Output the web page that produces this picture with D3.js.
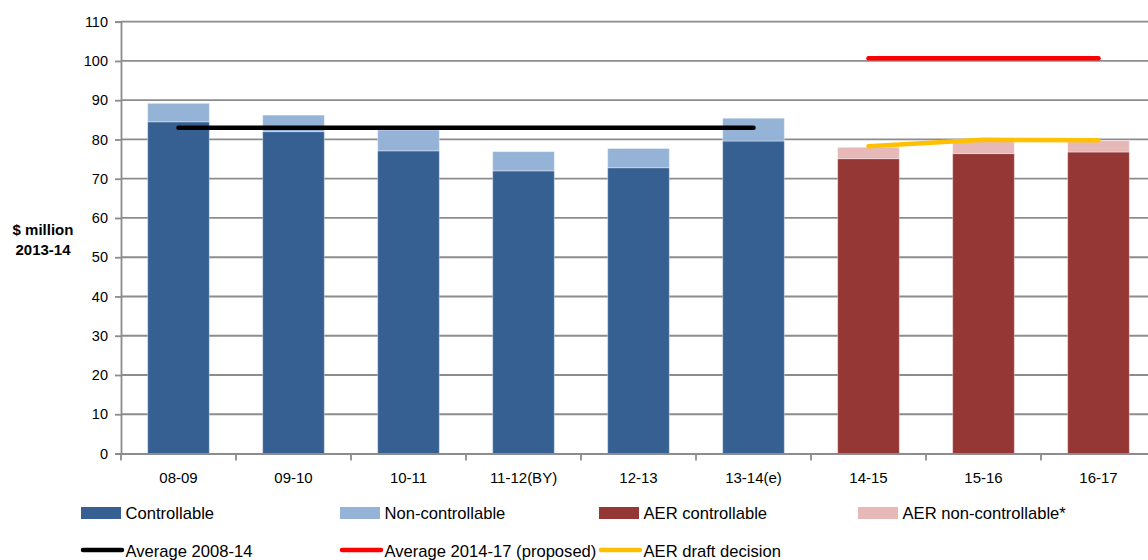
<!DOCTYPE html>
<html>
<head>
<meta charset="utf-8">
<script src="https://cdn.jsdelivr.net/npm/d3@7"></script>
<style>
  html, body { margin: 0; padding: 0; background: #fff; }
  svg { display: block; font-family: "Liberation Sans", Arial, sans-serif; }
</style>
</head>
<body>
<svg id="chart" width="1148" height="560"></svg>
<script>
// Financial years on the category axis
const years = ["08-09", "09-10", "10-11", "11-12(BY)", "12-13", "13-14(e)", "14-15", "15-16", "16-17"];

// Historical opex ($ million 2013-14)
const controllable    = [84.5, 82.0, 77.1, 72.0, 72.8, 79.6, null, null, null];
const nonControllable = [4.7, 4.2, 5.3, 4.9, 4.9, 5.8, null, null, null];

// AER forecast
const aerControllable    = [null, null, null, null, null, null, 75.1, 76.4, 76.8];
const aerNonControllable = [null, null, null, null, null, null, 2.9, 3.5, 2.9];

// Reference lines
const avgHistoric = 83.0;           // Average 2008-14, spans 08-09 .. 13-14(e)
const avgProposed = 100.7;          // Average 2014-17 (proposed), spans 14-15 .. 16-17
const aerDraft    = [78.3, 79.9, 79.8]; // AER draft decision, 14-15 .. 16-17

const yTicks = [0, 10, 20, 30, 40, 50, 60, 70, 80, 90, 100, 110];

const colors = {
  controllable: "#376092",
  nonControllable: "#95B3D7",
  aerControllable: "#953735",
  aerNonControllable: "#E6B9B8",
  avgHistoric: "#000000",
  avgProposed: "#FF0000",
  aerDraft: "#FFC000",
  grid: "#8C8C8C"
};

const svg = d3.select("#chart");
const x0 = 121, x1 = 1156, yTop = 21.7, yBottom = 453.5;

const x = d3.scaleBand().domain(years).range([x0, x1]).paddingInner(0.464).paddingOuter(0.232);
const y = d3.scaleLinear().domain([0, 110]).range([yBottom, yTop]);

// Horizontal gridlines
svg.append("g")
  .selectAll("line")
  .data(yTicks.filter(d => d > 0))
  .join("line")
  .attr("x1", x0).attr("x2", 1148)
  .attr("y1", d => y(d)).attr("y2", d => y(d))
  .attr("stroke", colors.grid).attr("stroke-width", 1.8);

// Y axis
const yAxis = svg.append("g")
  .attr("transform", `translate(${x0},0)`)
  .call(d3.axisLeft(y).tickValues(yTicks).tickSize(6).tickPadding(7));
yAxis.select(".domain").attr("stroke", colors.grid).attr("stroke-width", 1.8);
yAxis.selectAll(".tick line").attr("stroke", colors.grid).attr("stroke-width", 1.8);
yAxis.selectAll(".tick text").attr("font-size", 14.5).attr("fill", "#000")
  .attr("font-family", "Liberation Sans, Arial, sans-serif");

// Y axis title
const yTitle = svg.append("text")
  .attr("text-anchor", "middle")
  .attr("font-weight", "bold")
  .attr("font-size", 15)
  .attr("fill", "#000");
yTitle.append("tspan").attr("x", 43).attr("y", 235).text("$ million");
yTitle.append("tspan").attr("x", 43).attr("y", 255).text("2013-14");

// Stacked bars
function drawStack(base, top, cBase, cTop) {
  const g = svg.append("g");
  years.forEach((yr, i) => {
    if (base[i] == null) return;
    g.append("rect")
      .attr("x", x(yr)).attr("width", x.bandwidth())
      .attr("y", y(base[i])).attr("height", y(0) - y(base[i]))
      .attr("fill", cBase)
      .attr("stroke", "#ffffff").attr("stroke-opacity", 0.35).attr("stroke-width", 1);
    g.append("rect")
      .attr("x", x(yr)).attr("width", x.bandwidth())
      .attr("y", y(base[i] + top[i])).attr("height", y(base[i]) - y(base[i] + top[i]))
      .attr("fill", cTop)
      .attr("stroke", "#ffffff").attr("stroke-opacity", 0.35).attr("stroke-width", 1);
  });
}
drawStack(controllable, nonControllable, colors.controllable, colors.nonControllable);
drawStack(aerControllable, aerNonControllable, colors.aerControllable, colors.aerNonControllable);

// X axis
const xAxis = svg.append("g")
  .attr("transform", `translate(0,${y(0)})`)
  .call(d3.axisBottom(x).tickSize(0).tickPadding(19));
xAxis.select(".domain").attr("stroke", colors.grid).attr("stroke-width", 1.8);
xAxis.selectAll(".tick text").attr("font-size", 15).attr("fill", "#000")
  .attr("font-family", "Liberation Sans, Arial, sans-serif");
// tick marks on category boundaries
xAxis.append("g")
  .selectAll("line")
  .data(years.map((d, i) => x0 + i * x.step()).concat([x1]))
  .join("line")
  .attr("x1", d => d).attr("x2", d => d)
  .attr("y1", 0).attr("y2", 7)
  .attr("stroke", colors.grid).attr("stroke-width", 1.8);

// Reference lines
const mid = d => x(d) + x.bandwidth() / 2;
const line = d3.line().x(d => mid(d[0])).y(d => y(d[1]));

svg.append("path")
  .datum(years.slice(0, 6).map(d => [d, avgHistoric]))
  .attr("d", line)
  .attr("fill", "none").attr("stroke", colors.avgHistoric)
  .attr("stroke-width", 4.5).attr("stroke-linecap", "round");

svg.append("path")
  .datum(years.slice(6).map(d => [d, avgProposed]))
  .attr("d", line)
  .attr("fill", "none").attr("stroke", colors.avgProposed)
  .attr("stroke-width", 4.5).attr("stroke-linecap", "round");

svg.append("path")
  .datum(years.slice(6).map((d, i) => [d, aerDraft[i]]))
  .attr("d", line)
  .attr("fill", "none").attr("stroke", colors.aerDraft)
  .attr("stroke-width", 4.5).attr("stroke-linecap", "round");

// Legend
const legendRects = [
  { label: "Controllable", color: colors.controllable },
  { label: "Non-controllable", color: colors.nonControllable },
  { label: "AER controllable", color: colors.aerControllable },
  { label: "AER non-controllable*", color: colors.aerNonControllable }
];
const legendLines = [
  { label: "Average 2008-14", color: colors.avgHistoric },
  { label: "Average 2014-17 (proposed)", color: colors.avgProposed },
  { label: "AER draft decision", color: colors.aerDraft }
];
const legX = 81, legStep = 259;

const lr = svg.append("g").selectAll("g").data(legendRects).join("g")
  .attr("transform", (d, i) => `translate(${legX + i * legStep},513)`);
lr.append("rect").attr("x", 0).attr("y", -6).attr("width", 40).attr("height", 12)
  .attr("fill", d => d.color);
lr.append("text").attr("x", 44.5).attr("y", 6).attr("font-size", 16.6).attr("fill", "#000")
  .text(d => d.label);

const ll = svg.append("g").selectAll("g").data(legendLines).join("g")
  .attr("transform", (d, i) => `translate(${legX + i * legStep},550)`);
ll.append("line").attr("x1", 2).attr("x2", 41).attr("y1", 0).attr("y2", 0)
  .attr("stroke", d => d.color).attr("stroke-width", 4.5).attr("stroke-linecap", "round");
ll.append("text").attr("x", 44.5).attr("y", 6.5).attr("font-size", 16.6).attr("fill", "#000")
  .text(d => d.label);
</script>
</body>
</html>
